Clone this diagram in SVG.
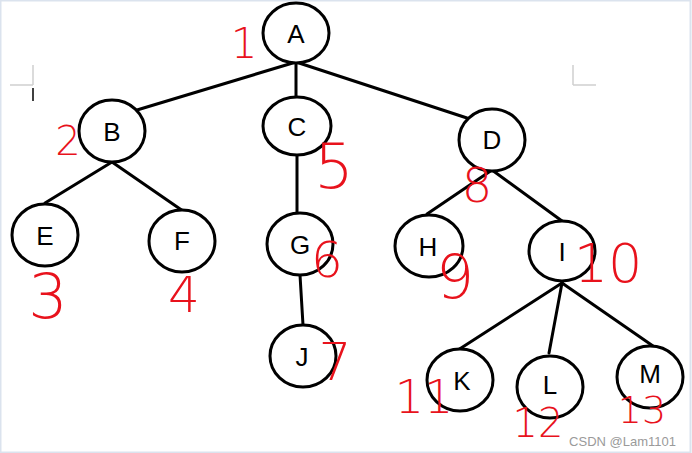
<svg xmlns="http://www.w3.org/2000/svg" width="692" height="453" viewBox="0 0 692 453">
<style>
.n ellipse{fill:#fff;stroke:#000;stroke-width:3}
.n text{font-family:"Liberation Sans",Arial,sans-serif;font-size:26px;fill:#000;text-anchor:middle}
.e line{stroke:#000;stroke-width:3;stroke-linecap:round}
.r{font-family:"DejaVu Sans","Liberation Sans",sans-serif;font-weight:200;fill:#e8121c;text-anchor:middle}
.crop{stroke:#d0d0d0;stroke-width:1.5;fill:none}
</style>
<rect x="0" y="0" width="692" height="453" fill="#fff"/>
<rect x="0.5" y="0.5" width="690" height="452" fill="none" stroke="#dbe3ee" stroke-width="2"/>
<path class="crop" d="M33,65 V85 M10,85 H33 M573,65 V85 M573,85 H596"/>
<line x1="33" y1="88" x2="33" y2="101" stroke="#000" stroke-width="1.5"/>
<g id="connectors" class="e">
<line x1="296" y1="62" x2="137" y2="110"/>
<line x1="296" y1="62" x2="296" y2="97"/>
<line x1="296" y1="62" x2="467" y2="118"/>
<line x1="112" y1="162" x2="45" y2="203"/>
<line x1="112" y1="162" x2="183" y2="211"/>
<line x1="297" y1="155" x2="297" y2="213"/>
<line x1="300" y1="275" x2="303" y2="325"/>
<line x1="492" y1="170" x2="427" y2="214"/>
<line x1="492" y1="170" x2="562" y2="221"/>
<line x1="562" y1="283" x2="458" y2="350"/>
<line x1="562" y1="283" x2="549" y2="353"/>
<line x1="562" y1="283" x2="653" y2="346"/>
</g>
<g id="node-A" class="n"><ellipse cx="296" cy="33" rx="33" ry="30"/><text x="296" y="43">A</text></g>
<g id="node-B" class="n"><ellipse cx="112" cy="131" rx="33" ry="31"/><text x="112" y="141">B</text></g>
<g id="node-C" class="n"><ellipse cx="297" cy="126" rx="34" ry="29"/><text x="297" y="136">C</text></g>
<g id="node-D" class="n"><ellipse cx="492" cy="140" rx="33" ry="31"/><text x="492" y="149">D</text></g>
<g id="node-E" class="n"><ellipse cx="45" cy="235" rx="33" ry="31"/><text x="45" y="245">E</text></g>
<g id="node-F" class="n"><ellipse cx="182" cy="241" rx="33" ry="31"/><text x="182" y="250">F</text></g>
<g id="node-G" class="n"><ellipse cx="300" cy="244" rx="33" ry="31"/><text x="300" y="254">G</text></g>
<g id="node-J" class="n"><ellipse cx="303" cy="356" rx="33" ry="31"/><text x="302" y="366">J</text></g>
<g id="node-H" class="n"><ellipse cx="429" cy="246" rx="34" ry="31"/><text x="428" y="256">H</text></g>
<g id="node-I" class="n"><ellipse cx="562" cy="251" rx="33" ry="30"/><text x="562" y="261">I</text></g>
<g id="node-K" class="n"><ellipse cx="460" cy="380" rx="33" ry="31"/><text x="462" y="390">K</text></g>
<g id="node-L" class="n"><ellipse cx="550" cy="387" rx="33" ry="31"/><text x="550" y="394">L</text></g>
<g id="node-M" class="n"><ellipse cx="650" cy="377" rx="33" ry="31"/><text x="650" y="383">M</text></g>
<g id="numbers">
<text class="r" x="244" y="58" font-size="42">1</text>
<text class="r" x="68" y="155" font-size="40">2</text>
<text class="r" x="48" y="318" font-size="62">3</text>
<text class="r" x="184" y="312" font-size="50">4</text>
<text class="r" x="334" y="188" font-size="62">5</text>
<text class="r" x="327" y="277" font-size="50">6</text>
<text class="r" x="335" y="380" font-size="52">7</text>
<text class="r" x="477" y="202" font-size="48">8</text>
<text class="r" x="455" y="298" font-size="60">9</text>
<text class="r" x="608" y="282" font-size="54">10</text>
<text class="r" x="424" y="413" font-size="46">11</text>
<text class="r" x="538" y="437" font-size="40">12</text>
<text class="r" x="642" y="423" font-size="38">13</text>
</g>
<text x="676" y="446" font-family="'Liberation Sans',Arial,sans-serif" font-size="13" fill="#9a9a9a" text-anchor="end">CSDN @Lam1101</text>
</svg>
